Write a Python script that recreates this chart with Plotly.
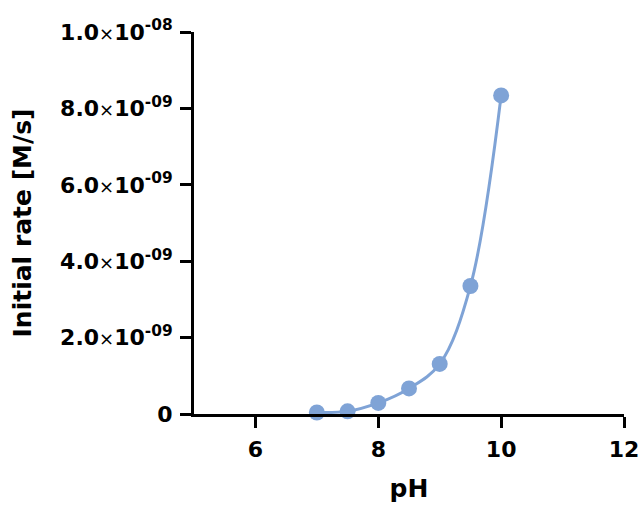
import plotly.graph_objects as go

ph = [7.0, 7.5, 8.0, 8.5, 9.0, 9.5, 10.0]
rate = [0.04e-9, 0.07e-9, 0.29e-9, 0.67e-9, 1.31e-9, 3.35e-9, 8.34e-9]

x_ticks = [6, 8, 10, 12]
y_ticks = [0, 2e-9, 4e-9, 6e-9, 8e-9, 1e-8]
times = "<span style='font-weight:normal;font-size:18px'>×</span>"
y_labels = ["0",
            f"2.0{times}10<sup>-09</sup>",
            f"4.0{times}10<sup>-09</sup>",
            f"6.0{times}10<sup>-09</sup>",
            f"8.0{times}10<sup>-09</sup>",
            f"1.0{times}10<sup>-08</sup>"]

color = "#7FA3D6"
font_family = "DejaVu Sans, sans-serif"

fig = go.Figure()
fig.add_trace(go.Scatter(
    x=ph, y=rate, mode="lines",
    line=dict(color=color, width=3, shape="spline", smoothing=1.0),
    hoverinfo="skip", showlegend=False, cliponaxis=False,
))
fig.add_trace(go.Scatter(
    x=ph, y=rate, mode="markers",
    marker=dict(color=color, size=16),
    showlegend=False, cliponaxis=False,
))

fig.update_layout(
    width=641, height=511,
    margin=dict(l=194, r=17, t=32, b=97),
    plot_bgcolor="white", paper_bgcolor="white",
    font=dict(family=font_family, color="black", size=22),
)
fig.update_xaxes(
    range=[5, 12], tickvals=x_ticks, ticktext=[f"<b>{v}</b>" for v in x_ticks],
    showgrid=False, zeroline=False, automargin=False,
    showline=True, linecolor="black", linewidth=3,
    ticks="outside", ticklen=11, tickwidth=3, tickcolor="black",
    ticklabelstandoff=3,
    tickfont=dict(size=22, family=font_family),
    title=dict(text="<b>pH</b>", font=dict(size=25, family=font_family), standoff=19),
)
fig.update_yaxes(
    range=[0, 1e-8], tickvals=y_ticks, ticktext=[f"<b>{t}</b>" for t in y_labels],
    showgrid=False, zeroline=False, automargin=False,
    showline=True, linecolor="black", linewidth=3,
    ticks="outside", ticklen=11, tickwidth=3, tickcolor="black",
    ticklabelstandoff=3,
    tickfont=dict(size=22, family=font_family),
    title=dict(text="<b>Initial rate [M/s]</b>", font=dict(size=25, family=font_family), standoff=22),
)

fig.write_html(
    "out.html",
    config={"displayModeBar": False},
    post_script="document.body.style.margin='0';document.body.style.overflow='hidden';",
)
